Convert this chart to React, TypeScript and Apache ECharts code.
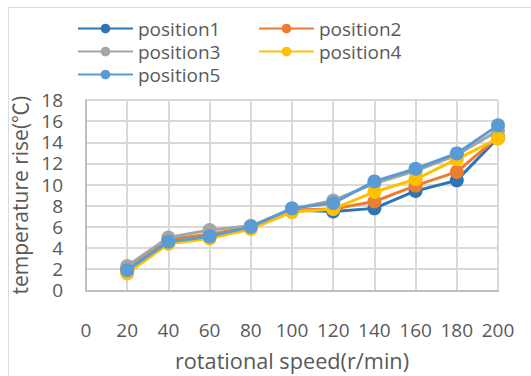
import React, { useEffect, useRef } from "react";
import * as echarts from "echarts";

// Rotational speed (r/min) at which each temperature rise was measured
const speeds = [20, 40, 60, 80, 100, 120, 140, 160, 180, 200];

// Temperature rise (℃) per measuring position
const position1 = [2.0, 4.7, 5.2, 6.0, 7.6, 7.45, 7.75, 9.4, 10.4, 14.4];
const position2 = [2.0, 4.8, 5.3, 6.0, 7.6, 7.7, 8.4, 9.9, 11.2, 14.5];
const position3 = [2.3, 5.0, 5.7, 6.1, 7.7, 8.5, 10.1, 11.3, 12.8, 15.1];
const position4 = [1.6, 4.4, 4.9, 5.8, 7.4, 7.7, 9.3, 10.5, 12.4, 14.35];
const position5 = [1.9, 4.6, 5.1, 6.0, 7.75, 8.25, 10.3, 11.5, 12.95, 15.6];

const seriesNames = ["position1", "position2", "position3", "position4", "position5"];
const seriesValues = [position1, position2, position3, position4, position5];
const seriesColors = ["#2E75B6", "#ED7D31", "#A5A5A5", "#FFC000", "#5B9BD5"];

const FONT = "'Open Sans', 'Noto Sans CJK SC', sans-serif";
const TEXT = "#595959";

export default function App() {
  const ref = useRef<HTMLDivElement>(null);

  useEffect(() => {
    document.body.style.margin = "0";
    document.body.style.overflow = "hidden";
    if (!ref.current) return;
    const chart = echarts.init(ref.current, null, { renderer: "svg" });

    // one legend per entry so they sit in a fixed two-column layout
    const legendSlots = [
      { left: 77, top: 19 },
      { left: 258, top: 19 },
      { left: 77, top: 42 },
      { left: 258, top: 42 },
      { left: 77, top: 65 },
    ];

    chart.setOption({
      animation: false,
      textStyle: { fontFamily: FONT },
      legend: seriesNames.map((name, i) => ({
        data: [name],
        left: legendSlots[i].left,
        top: legendSlots[i].top,
        padding: 0,
        itemWidth: 55,
        itemHeight: 12,
        itemGap: 0,
        selectedMode: false,
        textStyle: { color: TEXT, fontSize: 19, fontFamily: FONT },
      })),
      grid: { left: 86, top: 100, width: 412, height: 197, containLabel: false },
      xAxis: {
        type: "value",
        min: 0,
        max: 200,
        interval: 20,
        name: "rotational speed(r/min)",
        nameLocation: "middle",
        nameGap: 59,
        nameTextStyle: { color: TEXT, fontSize: 21.7, fontFamily: FONT },
        axisLine: { show: true, lineStyle: { color: "#BFBFBF", width: 2 } },
        axisTick: { show: false },
        axisLabel: { color: TEXT, fontSize: 19, margin: 30, fontFamily: FONT },
        splitLine: { show: true, lineStyle: { color: "#D9D9D9", width: 2 } },
      },
      yAxis: {
        type: "value",
        min: 0,
        max: 18,
        interval: 2,
        name: "temperature rise(℃)",
        nameLocation: "middle",
        nameGap: 44,
        nameRotate: 90,
        nameTextStyle: { color: TEXT, fontSize: 21, fontFamily: FONT },
        axisLine: { show: true, lineStyle: { color: "#BFBFBF", width: 2 } },
        axisTick: { show: false },
        axisLabel: { color: TEXT, fontSize: 19, margin: 23, fontFamily: FONT },
        splitLine: { show: true, lineStyle: { color: "#D9D9D9", width: 2 } },
      },
      series: seriesNames.map((name, i) => ({
        name,
        type: "line",
        data: speeds.map((s, j) => [s, seriesValues[i][j]]),
        symbol: "circle",
        symbolSize: 14,
        color: seriesColors[i],
        lineStyle: { width: 3, color: seriesColors[i] },
        itemStyle: { color: seriesColors[i] },
        z: 2 + i,
      })),
    });

    return () => chart.dispose();
  }, []);

  return (
    <div style={{ position: "relative", width: 531, height: 376, overflow: "hidden", background: "#fff" }}>
      {/* chart-area frame, only its top and left edges fall inside the view */}
      <div
        style={{
          position: "absolute",
          left: 8,
          top: 7,
          width: 600,
          height: 400,
          borderTop: "1px solid #D6DCE5",
          borderLeft: "1px solid #D6DCE5",
        }}
      />
      <div ref={ref} style={{ position: "absolute", left: 0, top: 0, width: 531, height: 376 }} />
    </div>
  );
}
